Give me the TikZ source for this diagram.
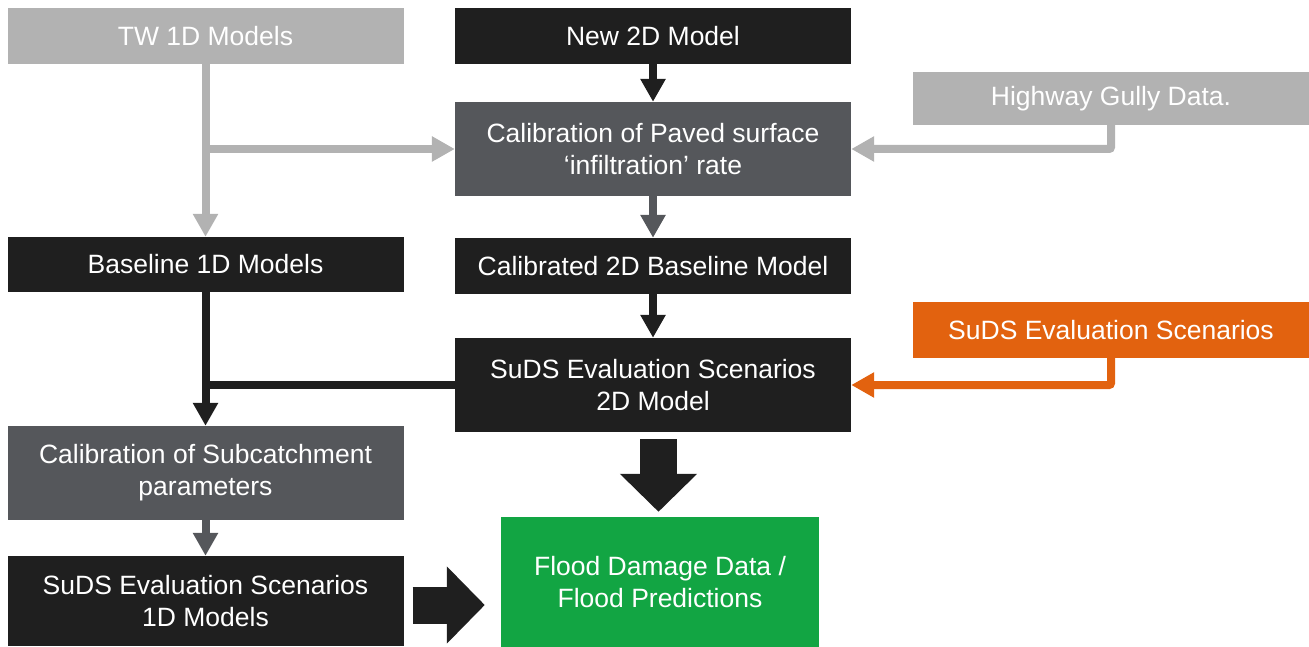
\documentclass[tikz,border=0pt]{standalone}
\usepackage{fontspec}
\setmainfont{Liberation Sans}
\usetikzlibrary{arrows.meta,positioning,calc}
\definecolor{boxblack}{HTML}{1F1F1F}
\definecolor{boxdark}{HTML}{55575B}
\definecolor{boxgray}{HTML}{B2B2B2}
\definecolor{boxorange}{HTML}{E2620F}
\definecolor{boxgreen}{HTML}{12A543}
\tikzset{
  box/.style={rectangle, inner sep=0pt, text=white, align=center,
    font=\fontsize{26.5}{32}\selectfont, minimum width=396pt, minimum height=56pt},
  link/.style={line width=8pt, -{Triangle[length=23pt,width=24pt]}},
  bigarrow/.style={line width=37pt, draw=boxblack, -{Triangle[length=38pt,width=75pt]}}
}
\begin{document}
\begin{tikzpicture}[x=1pt, y=-1pt]
\useasboundingbox (0,0) rectangle (1309,647);
% boxes
\node[box, fill=boxgray] (tw) at (205.5,36) {TW 1D Models};
\node[box, fill=boxblack] (new2d) at (653,36) {New 2D Model};
\node[box, fill=boxgray, minimum height=53pt] (gully) at (1111,98.5) {Highway Gully Data.};
\node[box, fill=boxdark, minimum height=94pt] (calp) at (653,149) {Calibration of Paved surface\\`infiltration' rate};
\node[box, fill=boxblack, minimum height=55pt] (base1d) at (205.5,264.5) {Baseline 1D Models};
\node[box, fill=boxblack] (cal2d) at (653,266) {Calibrated 2D Baseline Model};
\node[box, fill=boxorange] (sudso) at (1111,330) {SuDS Evaluation Scenarios};
\node[box, fill=boxblack, minimum height=94pt] (sud2d) at (653,385) {SuDS Evaluation Scenarios\\2D Model};
\node[box, fill=boxdark, minimum height=94pt] (calsub) at (205.5,473) {Calibration of Subcatchment\\parameters};
\node[box, fill=boxblack, minimum height=90pt] (sud1d) at (205.5,601) {SuDS Evaluation Scenarios\\1D Models};
\node[box, fill=boxgreen, minimum width=318pt, minimum height=130pt] (flood) at (660,582) {Flood Damage Data /\\Flood Predictions};
% grey links
\draw[link, draw=boxgray] (tw.south) -- (base1d.north);
\draw[link, draw=boxgray] (tw.south |- calp.west) -- (calp.west);
\draw[link, draw=boxgray, rounded corners=2pt] (gully.south) |- (calp.east);
% 2D chain
\draw[link, draw=boxblack] (new2d.south) -- (calp.north);
\draw[link, draw=boxdark] (calp.south) -- (cal2d.north);
\draw[link, draw=boxblack] (cal2d.south) -- (sud2d.north);
\draw[link, draw=boxorange, rounded corners=2pt] (sudso.south) |- (sud2d.east);
% 1D chain
\draw[line width=8pt, draw=boxblack] (sud2d.west) -- (base1d.south |- sud2d.west);
\draw[link, draw=boxblack] (base1d.south) -- (calsub.north);
\draw[link, draw=boxdark] (calsub.south) -- (sud1d.north);
% results
\coordinate (out2d) at ([xshift=-1.5pt]flood.north |- sud2d.south);
\coordinate (out1d) at ([shift={(9,4)}]sud1d.east);
\draw[bigarrow, shorten <=7pt, shorten >=5pt] (out2d) -- (out2d |- flood.north);
\draw[bigarrow, shorten >=16pt] (out1d) -- (out1d -| flood.west);
\end{tikzpicture}
\end{document}
